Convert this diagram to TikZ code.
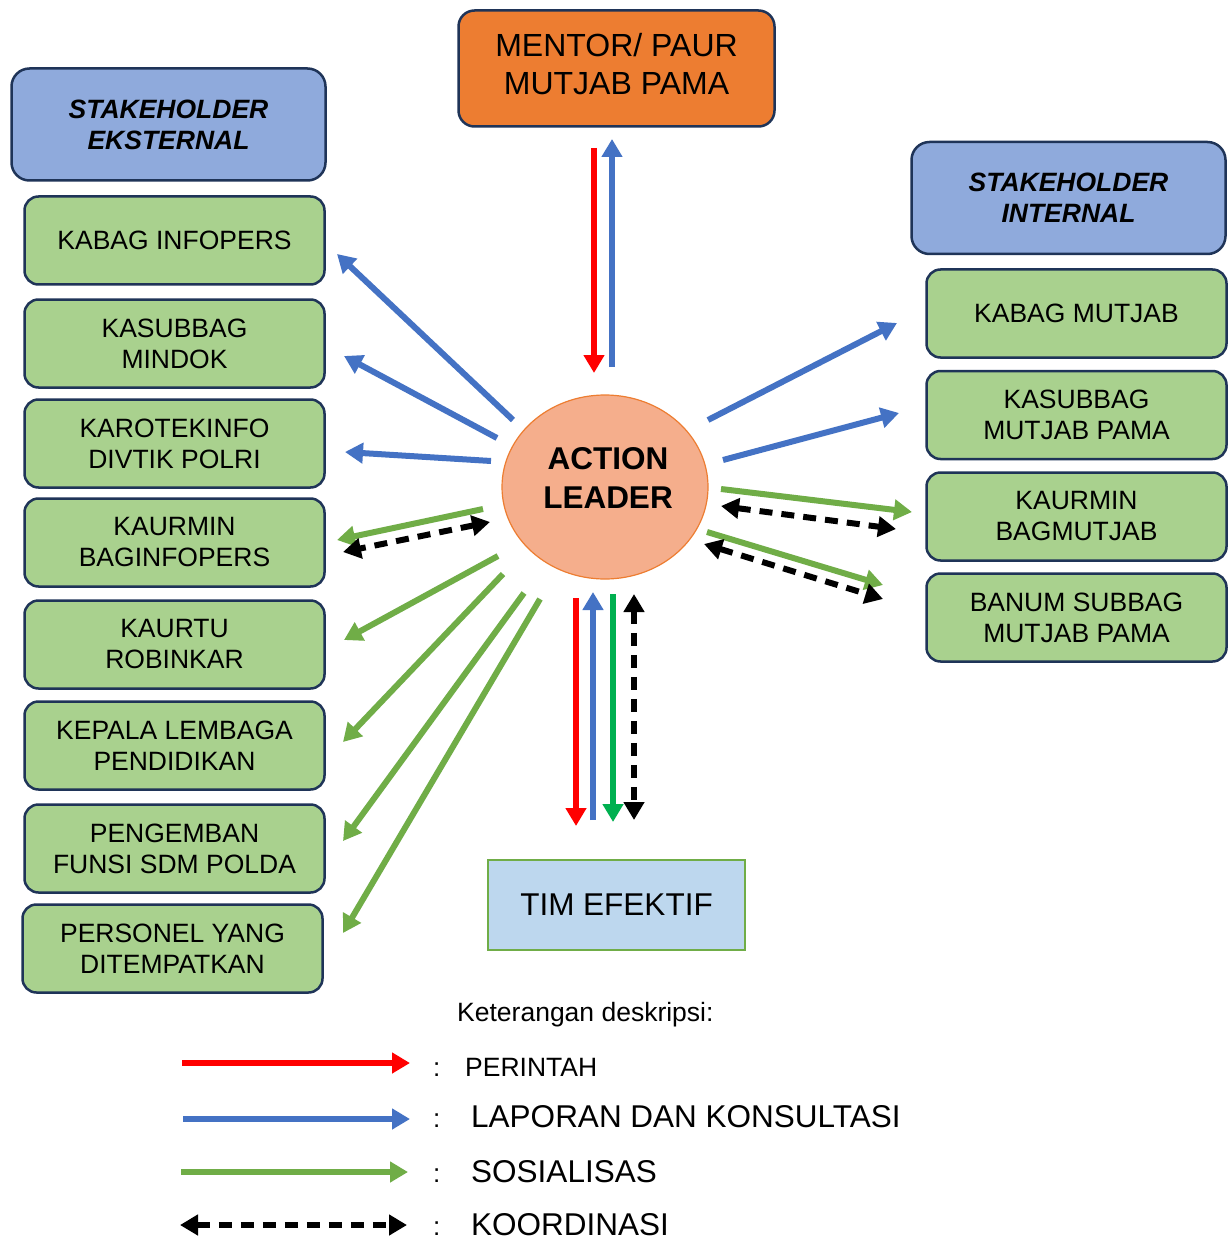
\documentclass[tikz,border=0pt]{standalone}
\usepackage{fontspec}
\setmainfont{Liberation Sans}
\usetikzlibrary{arrows.meta,shapes.geometric}
\definecolor{navy}{HTML}{1F3458}
\definecolor{gbox}{HTML}{A9D18E}
\definecolor{bbox}{HTML}{8FAADC}
\definecolor{obox}{HTML}{ED7D31}
\definecolor{lbox}{HTML}{BDD7EE}
\definecolor{salmon}{HTML}{F5AE8C}
\definecolor{cred}{HTML}{FF0000}
\definecolor{cblue}{HTML}{4472C4}
\definecolor{cgreen}{HTML}{70AD47}
\definecolor{cgreenb}{HTML}{00B050}
\begin{document}
\begin{tikzpicture}[x=1pt,y=-1pt,
  gbx/.style={draw=navy, line width=2.5pt, rounded corners=14pt, fill=gbox,
    minimum width=300pt, minimum height=88pt, align=center, inner sep=0pt,
    font=\fontsize{26.5}{31}\selectfont},
  sbx/.style={draw=navy, line width=2.5pt, rounded corners=18pt, fill=bbox,
    minimum width=314pt, minimum height=112pt, align=center, inner sep=0pt,
    font=\fontsize{26.5}{31}\selectfont\bfseries\itshape},
  arr/.style={line width=6pt, -{Triangle[width=20pt,length=18pt]}},
  darr/.style={line width=6pt, dash pattern=on 13pt off 9pt,
    {Triangle[width=20pt,length=18pt]}-{Triangle[width=20pt,length=18pt]}},
  lgd/.style={anchor=base west, inner sep=0pt}
]
\useasboundingbox (0,0) rectangle (1231,1238);
\fill[white] (0,0) rectangle (1231,1238);

% top / center / bottom
\node[draw=navy, line width=2.5pt, rounded corners=16pt, fill=obox,
  minimum width=316pt, minimum height=116pt, inner sep=0pt] (mentor) at (616.5,68.5) {};
\node[align=center, inner sep=0pt, font=\fontsize{32}{38}\selectfont] (mentortxt)
  at ([yshift=4pt]mentor.center) {MENTOR/ PAUR\\MUTJAB PAMA};
\node[ellipse, draw=obox, line width=1.2pt, fill=salmon, minimum width=206pt,
  minimum height=184pt, inner sep=0pt] (al) at (605,487) {};
\node[align=center, inner sep=0pt, font=\fontsize{31.5}{39}\selectfont\bfseries] (altxt)
  at (608,478) {ACTION\\LEADER};
\node[draw=cgreen, line width=2.5pt, fill=lbox, minimum width=257pt,
  minimum height=90pt, inner sep=0pt, font=\fontsize{31.5}{38}\selectfont] (tim) at (616.5,905) {TIM EFEKTIF};

% left
\node[sbx] (se) at (168.5,124.5) {STAKEHOLDER\\EKSTERNAL};
\node[gbx] (l1) at (174.5,240.5) {KABAG INFOPERS};
\node[gbx] (l2) at (174.5,343.5) {KASUBBAG\\MINDOK};
\node[gbx] (l3) at (174.5,443.5) {KAROTEKINFO\\DIVTIK POLRI};
\node[gbx] (l4) at (174.5,542.5) {KAURMIN\\BAGINFOPERS};
\node[gbx] (l5) at (174.5,644.5) {KAURTU\\ROBINKAR};
\node[gbx] (l6) at (174.5,745.5) {KEPALA LEMBAGA\\PENDIDIKAN};
\node[gbx] (l7) at (174.5,848.5) {PENGEMBAN\\FUNSI SDM POLDA};
\node[gbx] (l8) at (172.5,948.5) {PERSONEL YANG\\DITEMPATKAN};

% right
\node[sbx] (si) at (1068.5,198) {STAKEHOLDER\\INTERNAL};
\node[gbx] (r1) at (1076.5,313.5) {KABAG MUTJAB};
\node[gbx] (r2) at (1076.5,415) {KASUBBAG\\MUTJAB PAMA};
\node[gbx] (r3) at (1076.5,516.5) {KAURMIN\\BAGMUTJAB};
\node[gbx] (r4) at (1076.5,617.5) {BANUM SUBBAG\\MUTJAB PAMA};

% arrow end points
\coordinate (t1a) at (594,148); \coordinate (t1b) at (594,373);
\coordinate (t2a) at (612,367); \coordinate (t2b) at (612,139);
\coordinate (b1a) at (576,598); \coordinate (b1b) at (576,826);
\coordinate (b2a) at (593,820); \coordinate (b2b) at (593,592);
\coordinate (b3a) at (613,594); \coordinate (b3b) at (613,822);
\coordinate (b4a) at (634,594); \coordinate (b4b) at (634,820);

\coordinate (a1a) at (513,420); \coordinate (a1b) at (337,254);
\coordinate (a2a) at (497,438); \coordinate (a2b) at (344,356);
\coordinate (a3a) at (491,461); \coordinate (a3b) at (345,452);
\coordinate (a4a) at (483,509); \coordinate (a4b) at (337,540);
\coordinate (a5a) at (490,522); \coordinate (a5b) at (343,552);
\coordinate (a6a) at (498,556); \coordinate (a6b) at (344,640);
\coordinate (a7a) at (503,574); \coordinate (a7b) at (343,742);
\coordinate (a8a) at (524,593); \coordinate (a8b) at (343,841);
\coordinate (a9a) at (540,599); \coordinate (a9b) at (343,933);

\coordinate (c1a) at (708,420); \coordinate (c1b) at (897,323);
\coordinate (c2a) at (723,460); \coordinate (c2b) at (899,413);
\coordinate (c3a) at (721,489); \coordinate (c3b) at (912,512);
\coordinate (c4a) at (721,506); \coordinate (c4b) at (896,529);
\coordinate (c5a) at (707,532); \coordinate (c5b) at (883,585);
\coordinate (c6a) at (704,544); \coordinate (c6b) at (883,599);

\draw[arr, cred] (t1a) -- (t1b);
\draw[arr, cblue] (t2a) -- (t2b);
\draw[arr, cred] (b1a) -- (b1b);
\draw[arr, cblue] (b2a) -- (b2b);
\draw[arr, cgreenb] (b3a) -- (b3b);
\draw[darr] (b4a) -- (b4b);

\draw[arr, cblue] (a1a) -- (a1b);
\draw[arr, cblue] (a2a) -- (a2b);
\draw[arr, cblue] (a3a) -- (a3b);
\draw[arr, cgreen] (a4a) -- (a4b);
\draw[darr] (a5a) -- (a5b);
\draw[arr, cgreen] (a6a) -- (a6b);
\draw[arr, cgreen] (a7a) -- (a7b);
\draw[arr, cgreen] (a8a) -- (a8b);
\draw[arr, cgreen] (a9a) -- (a9b);

\draw[arr, cblue] (c1a) -- (c1b);
\draw[arr, cblue] (c2a) -- (c2b);
\draw[arr, cgreen] (c3a) -- (c3b);
\draw[darr] (c4a) -- (c4b);
\draw[arr, cgreen] (c5a) -- (c5b);
\draw[darr] (c6a) -- (c6b);

% legend
\node[lgd, font=\fontsize{26.5}{31}\selectfont] (ket) at (457,1021) {Keterangan deskripsi:};
\coordinate (g1a) at (182,1063); \coordinate (g1b) at (410,1063);
\coordinate (g2a) at (183,1119); \coordinate (g2b) at (410,1119);
\coordinate (g3a) at (181,1172); \coordinate (g3b) at (408,1172);
\coordinate (g4a) at (180,1225); \coordinate (g4b) at (407,1225);
\draw[arr, cred] (g1a) -- (g1b);
\draw[arr, cblue] (g2a) -- (g2b);
\draw[arr, cgreen] (g3a) -- (g3b);
\draw[darr] (g4a) -- (g4b);
\node[lgd, font=\fontsize{26}{31}\selectfont] (k1) at (433,1076) {:};
\node[lgd, font=\fontsize{26.5}{31}\selectfont] (t1) at (465,1076) {PERINTAH};
\node[lgd, font=\fontsize{26}{31}\selectfont] (k2) at (433,1127) {:};
\node[lgd, font=\fontsize{31.5}{38}\selectfont] (t2) at (471,1127) {LAPORAN DAN KONSULTASI};
\node[lgd, font=\fontsize{26}{31}\selectfont] (k3) at (433,1182) {:};
\node[lgd, font=\fontsize{31.5}{38}\selectfont] (t3) at (471,1182) {SOSIALISAS};
\node[lgd, font=\fontsize{26}{31}\selectfont] (k4) at (433,1235) {:};
\node[lgd, font=\fontsize{31.5}{38}\selectfont] (t4) at (471,1235) {KOORDINASI};
\end{tikzpicture}
\end{document}
